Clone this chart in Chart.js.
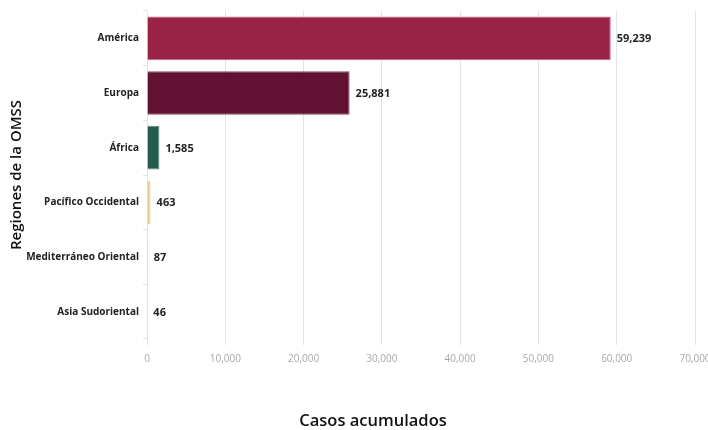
<!DOCTYPE html>
<html>
<head>
<meta charset="utf-8">
<script src="https://cdn.jsdelivr.net/npm/chart.js@4/dist/chart.umd.min.js"></script>
<style>
html,body{margin:0;padding:0;background:#fff;overflow:hidden;width:708px;height:430px;}
#wrap{position:relative;width:720px;height:430px;}
</style>
</head>
<body>
<div id="wrap"><canvas id="c"></canvas></div>
<script>
const categories = ["América","Europa","África","Pacífico Occidental","Mediterráneo Oriental","Asia Sudoriental"];
const casos = [59239, 25881, 1585, 463, 87, 46];
const barColors = ["#9b2247","#611232","#235b4e","#e0c891","#8f8f8f","#e6e6e6"];
const borderColors = ["#c2678a","#8a4a60","#5f8a7f","#ecdcb2","#a0a0a0","#eeeeee"];
const xTitle = "Casos acumulados";
const yTitle = "Regiones de la OMSS";

const FONT = "'Open Sans', sans-serif";

const valueLabels = {
  id: 'valueLabels',
  afterDatasetsDraw(chart) {
    const ctx = chart.ctx;
    const meta = chart.getDatasetMeta(0);
    ctx.save();
    ctx.font = "bold 11px " + FONT;
    ctx.fillStyle = "#222";
    ctx.textAlign = "left";
    ctx.textBaseline = "middle";
    meta.data.forEach((bar, i) => {
      ctx.fillText(casos[i].toLocaleString('en-US'), bar.x + 6, bar.y + 1);
    });
    ctx.restore();
  }
};

const bottomTitle = {
  id: 'bottomTitle',
  afterDraw(chart) {
    const ctx = chart.ctx;
    ctx.save();
    ctx.font = "600 16.5px " + FONT;
    ctx.fillStyle = "#111";
    ctx.textAlign = "center";
    ctx.textBaseline = "middle";
    ctx.fillText(xTitle, 373, 421);
    ctx.restore();
  }
};

new Chart(document.getElementById('c'), {
  type: 'bar',
  data: {
    labels: categories,
    datasets: [{
      data: casos,
      backgroundColor: barColors,
      borderColor: borderColors,
      borderWidth: 1,
      barPercentage: 0.8,
      categoryPercentage: 1.0
    }]
  },
  options: {
    indexAxis: 'y',
    responsive: true,
    maintainAspectRatio: false,
    animation: false,
    layout: { padding: { top: 11, right: 25, bottom: 57, left: 8 } },
    plugins: { legend: { display: false }, tooltip: { enabled: false } },
    scales: {
      x: {
        min: 0, max: 70000,
        ticks: {
          stepSize: 10000,
          color: "#a8a8a8",
          font: { family: FONT, size: 10 },
          padding: 8,
          callback: v => v.toLocaleString('en-US')
        },
        grid: { color: "#e3e3e3", lineWidth: 1, tickLength: 6 },
        border: { display: false }
      },
      y: {
        ticks: {
          color: "#222",
          font: { family: FONT, size: 10, weight: 'bold' },
          padding: 4
        },
        grid: { drawOnChartArea: false, color: "#e3e3e3", tickLength: 4 },
        border: { display: true, color: "#e3e3e3" },
        title: {
          display: true, text: yTitle, color: "#111",
          font: { family: FONT, size: 15, weight: '600' },
          padding: { top: 0, bottom: 0 }
        },
        afterFit(scale) { scale.width = 139; }
      }
    }
  },
  plugins: [valueLabels, bottomTitle]
});
</script>
</body>
</html>
